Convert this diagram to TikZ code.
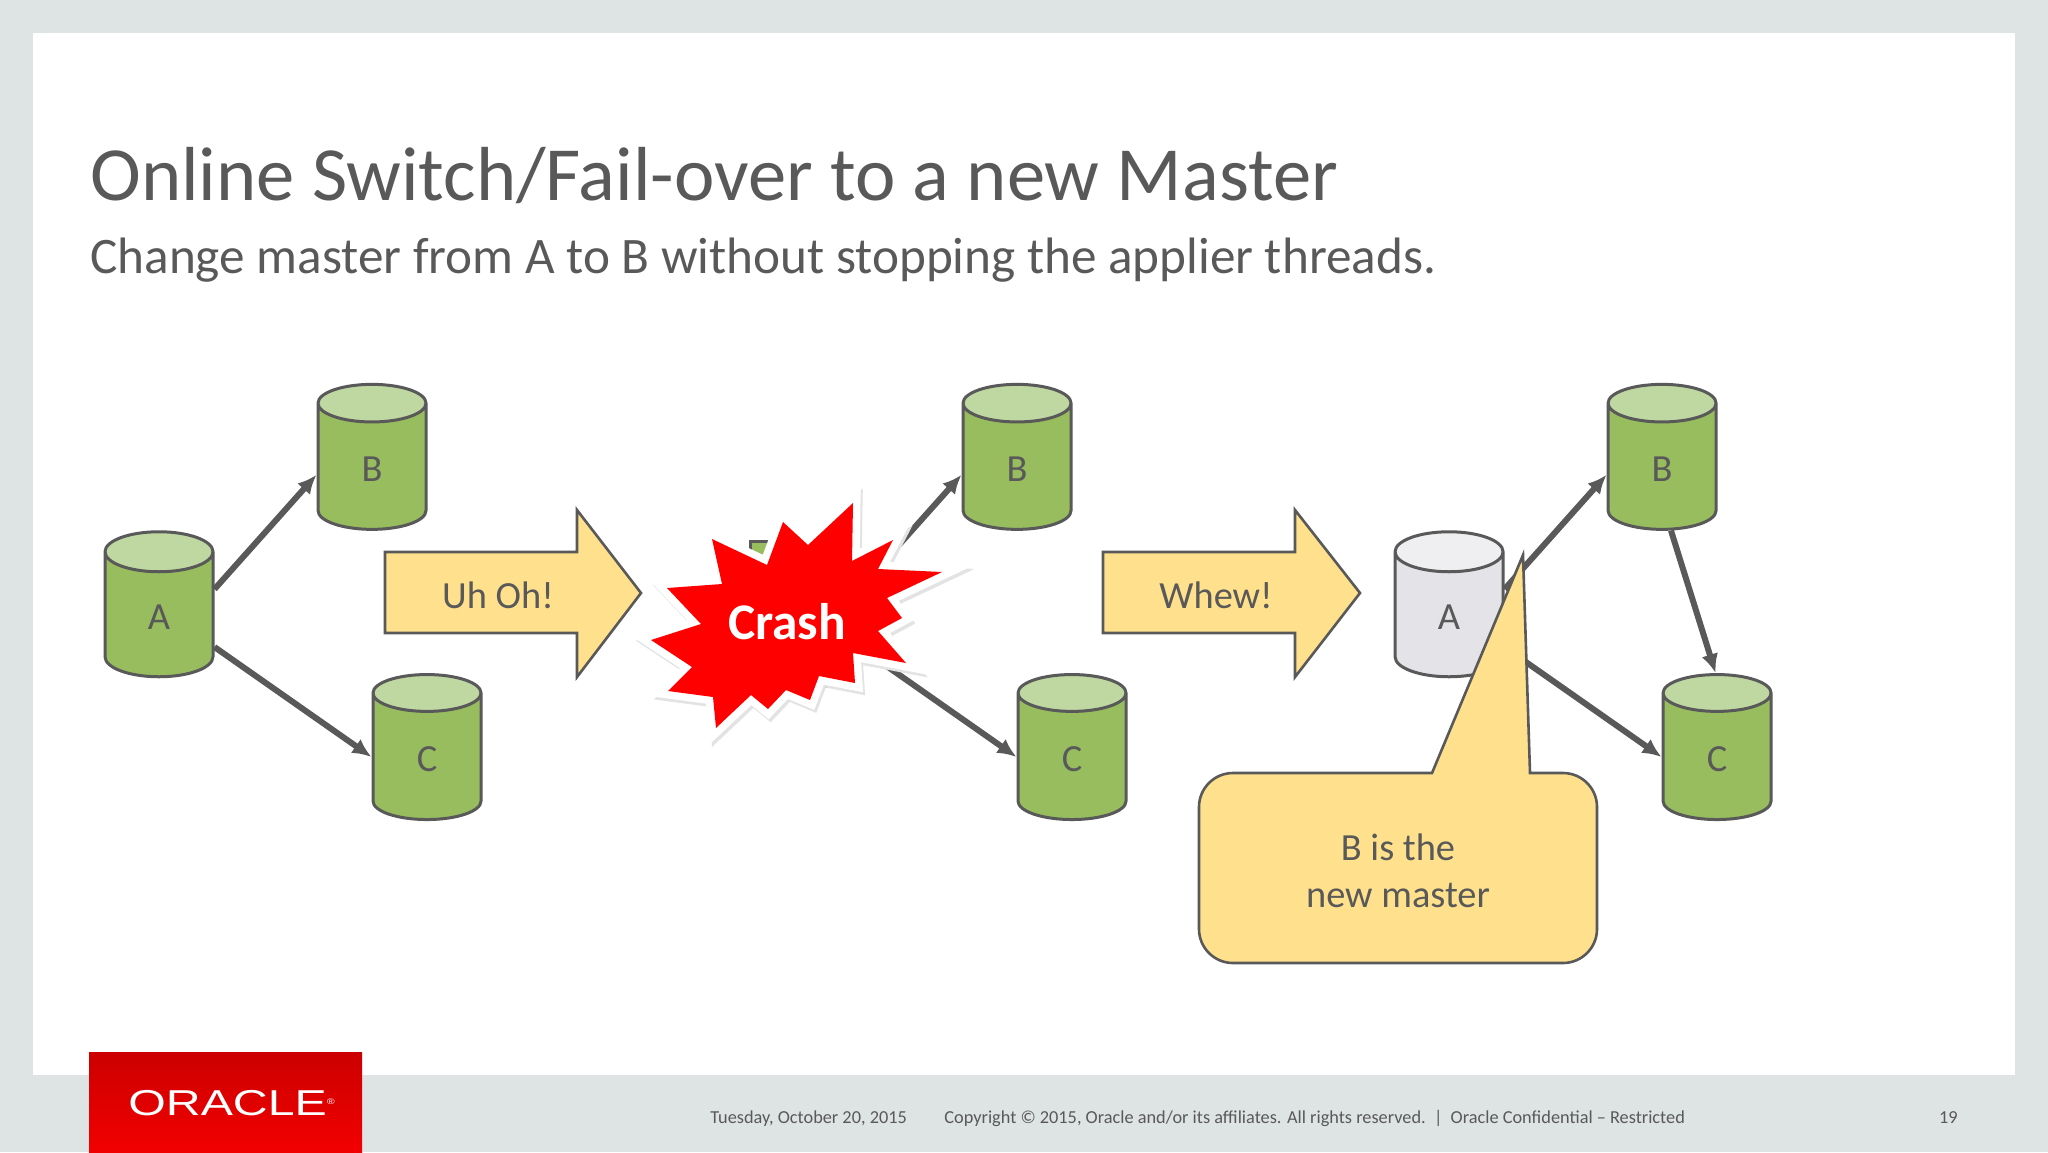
\documentclass[tikz,border=0pt]{standalone}
\usepackage{fontspec}
\setmainfont{Carlito}
\newfontfamily\logofont[FakeStretch=1.34]{Liberation Sans}
\usetikzlibrary{positioning,shapes.geometric,arrows.meta}

\definecolor{inkgray}{HTML}{595959}
\definecolor{framegray}{HTML}{DEE3E4}
\definecolor{dbgreen}{HTML}{97BD5F}
\definecolor{dbtop}{HTML}{BFD8A2}
\definecolor{dboff}{HTML}{E4E4E8}
\definecolor{dbofftop}{HTML}{EFEFF1}
\definecolor{noteyellow}{HTML}{FFE08C}

\tikzset{
	db/.style={draw=inkgray,line width=1.5pt,cylinder,shape border rotate=90,aspect=1.8,
		minimum height=72.5pt,minimum width=54pt,inner sep=0pt,cylinder uses custom fill,
		cylinder body fill=dbgreen,cylinder end fill=dbtop,text=inkgray,text height=14.8pt,text depth=0pt,
		font=\fontsize{19.2}{21}\selectfont},
	dboffline/.style={db,cylinder body fill=dboff,cylinder end fill=dbofftop},
	link/.style={draw=inkgray,line width=3pt,-{Latex[length=9.5pt,width=8.5pt]}},
	note/.style={draw=inkgray,line width=1.3pt,fill=noteyellow},
	notetext/.style={text=inkgray,font=\fontsize{19.2}{23.5}\selectfont,align=center},
	burstrim/.style={line width=7.5pt,miter limit=20},
	footnote/.style={inner sep=0pt,text=inkgray,font=\fontsize{9.15}{10}\selectfont}
}

\newcommand{\crashoutline}{(853,503) -- (852,561) -- (893,540) -- (878,569) -- (942,572) -- (887,598) -- (902,618) -- (878,631)
	-- (906,663) -- (853,653) -- (855,683) -- (819,676) -- (810,700) -- (786,690) -- (768,709) -- (751,695)
	-- (716,728) -- (713,697) -- (668,691) -- (692,667) -- (651,640) -- (701,624) -- (667,588) -- (722,584)
	-- (712,539) -- (767,565) -- (783,522) -- (808,545) -- cycle}

\begin{document}
\begin{tikzpicture}[x=0.5pt,y=-0.5pt]
	\useasboundingbox (0,0) rectangle (2048,1152);
	\fill[framegray] (0,0) rectangle (2048,1152);
	\fill[white] (33,33) rectangle (2015,1075);

	\node[anchor=base west,inner sep=0pt,text=inkgray,font=\fontsize{38.3}{42}\selectfont] (title) at (90,200) {Online Switch/Fail-over to a new Master};
	\node[anchor=base west,inner sep=0pt,text=inkgray,font=\fontsize{25.6}{30}\selectfont] (subtitle) at (90,273) {Change master from A to B without stopping the applier threads.};

	% first group
	\node[db] (a1) at (159,615) {A};
	\node[db] (b1) at (372,467) {B};
	\node[db] (c1) at (427,757) {C};
	\draw[link] (a1.25) -- (b1.-172);
	\draw[link] (a1.-30) -- (c1.180);

	\draw[note] (385,552) -- (577,552) -- (577,510) -- (641,593) -- (577,677) -- (577,633) -- (385,633) -- cycle;
	\node[notetext] (uhoh) at (498,595) {Uh Oh!};

	% second group
	\node[db,right=267pt of a1] (a2) {};
	\node[db,right=267pt of b1] (b2) {B};
	\node[db,right=267pt of c1] (c2) {C};
	\draw[link] (a2.25) -- (b2.-172);
	\draw[link] (a2.-30) -- (c2.180);

	\path[draw=black!11,burstrim,shift={(2,3)}] \crashoutline;
	\path[draw=white,burstrim] \crashoutline;
	\path[fill=red] \crashoutline;
	\node[inner sep=0pt,text=white,font=\fontsize{25.7}{28}\selectfont\bfseries] (crash) at (787,622) {Crash};

	\draw[note] (1103,552) -- (1295,552) -- (1295,510) -- (1360,593) -- (1295,677) -- (1295,633) -- (1103,633) -- cycle;
	\node[notetext] (whew) at (1216,595) {Whew!};

	% third group
	\node[dboffline,right=267pt of a2] (a3) {A};
	\node[db,right=267pt of b2] (b3) {B};
	\node[db,right=267pt of c2] (c3) {C};
	\draw[link] (a3.25) -- (b3.-172);
	\draw[link] (a3.-30) -- (c3.180);
	\draw[link] (b3.-82) -- (c3.91);

	\draw[note] (1530,773) [rounded corners=17pt] -- (1597,773) -- (1597,963) -- (1199,963) -- (1199,773) -- (1300,773) [sharp corners] -- (1432,773) -- (1523,555) -- cycle;
	\node[notetext] (newmaster) at (1398,871) {B is the\\new master};

	% footer
	\fill[top color=red!80!black,bottom color=red!95!black] (89,1052) rectangle (362,1152);
	\node[anchor=base west,inner sep=0pt,text=white,font=\logofont\fontsize{18}{20}\selectfont] (logo) at (128,1115) {ORACLE\raisebox{5.5pt}{\fontsize{4}{4}\selectfont ®}};
	\node[footnote,anchor=base west] (datefoot) at (710,1123) {Tuesday, October 20, 2015};
	\node[footnote,anchor=base west] (copyfoot) at (944,1123) {Copyright © 2015, Oracle and/or its affiliates. All rights reserved.~~|~~Oracle Confidential – Restricted};
	\node[footnote,anchor=base east] (pagefoot) at (1958,1123) {19};
\end{tikzpicture}
\end{document}
